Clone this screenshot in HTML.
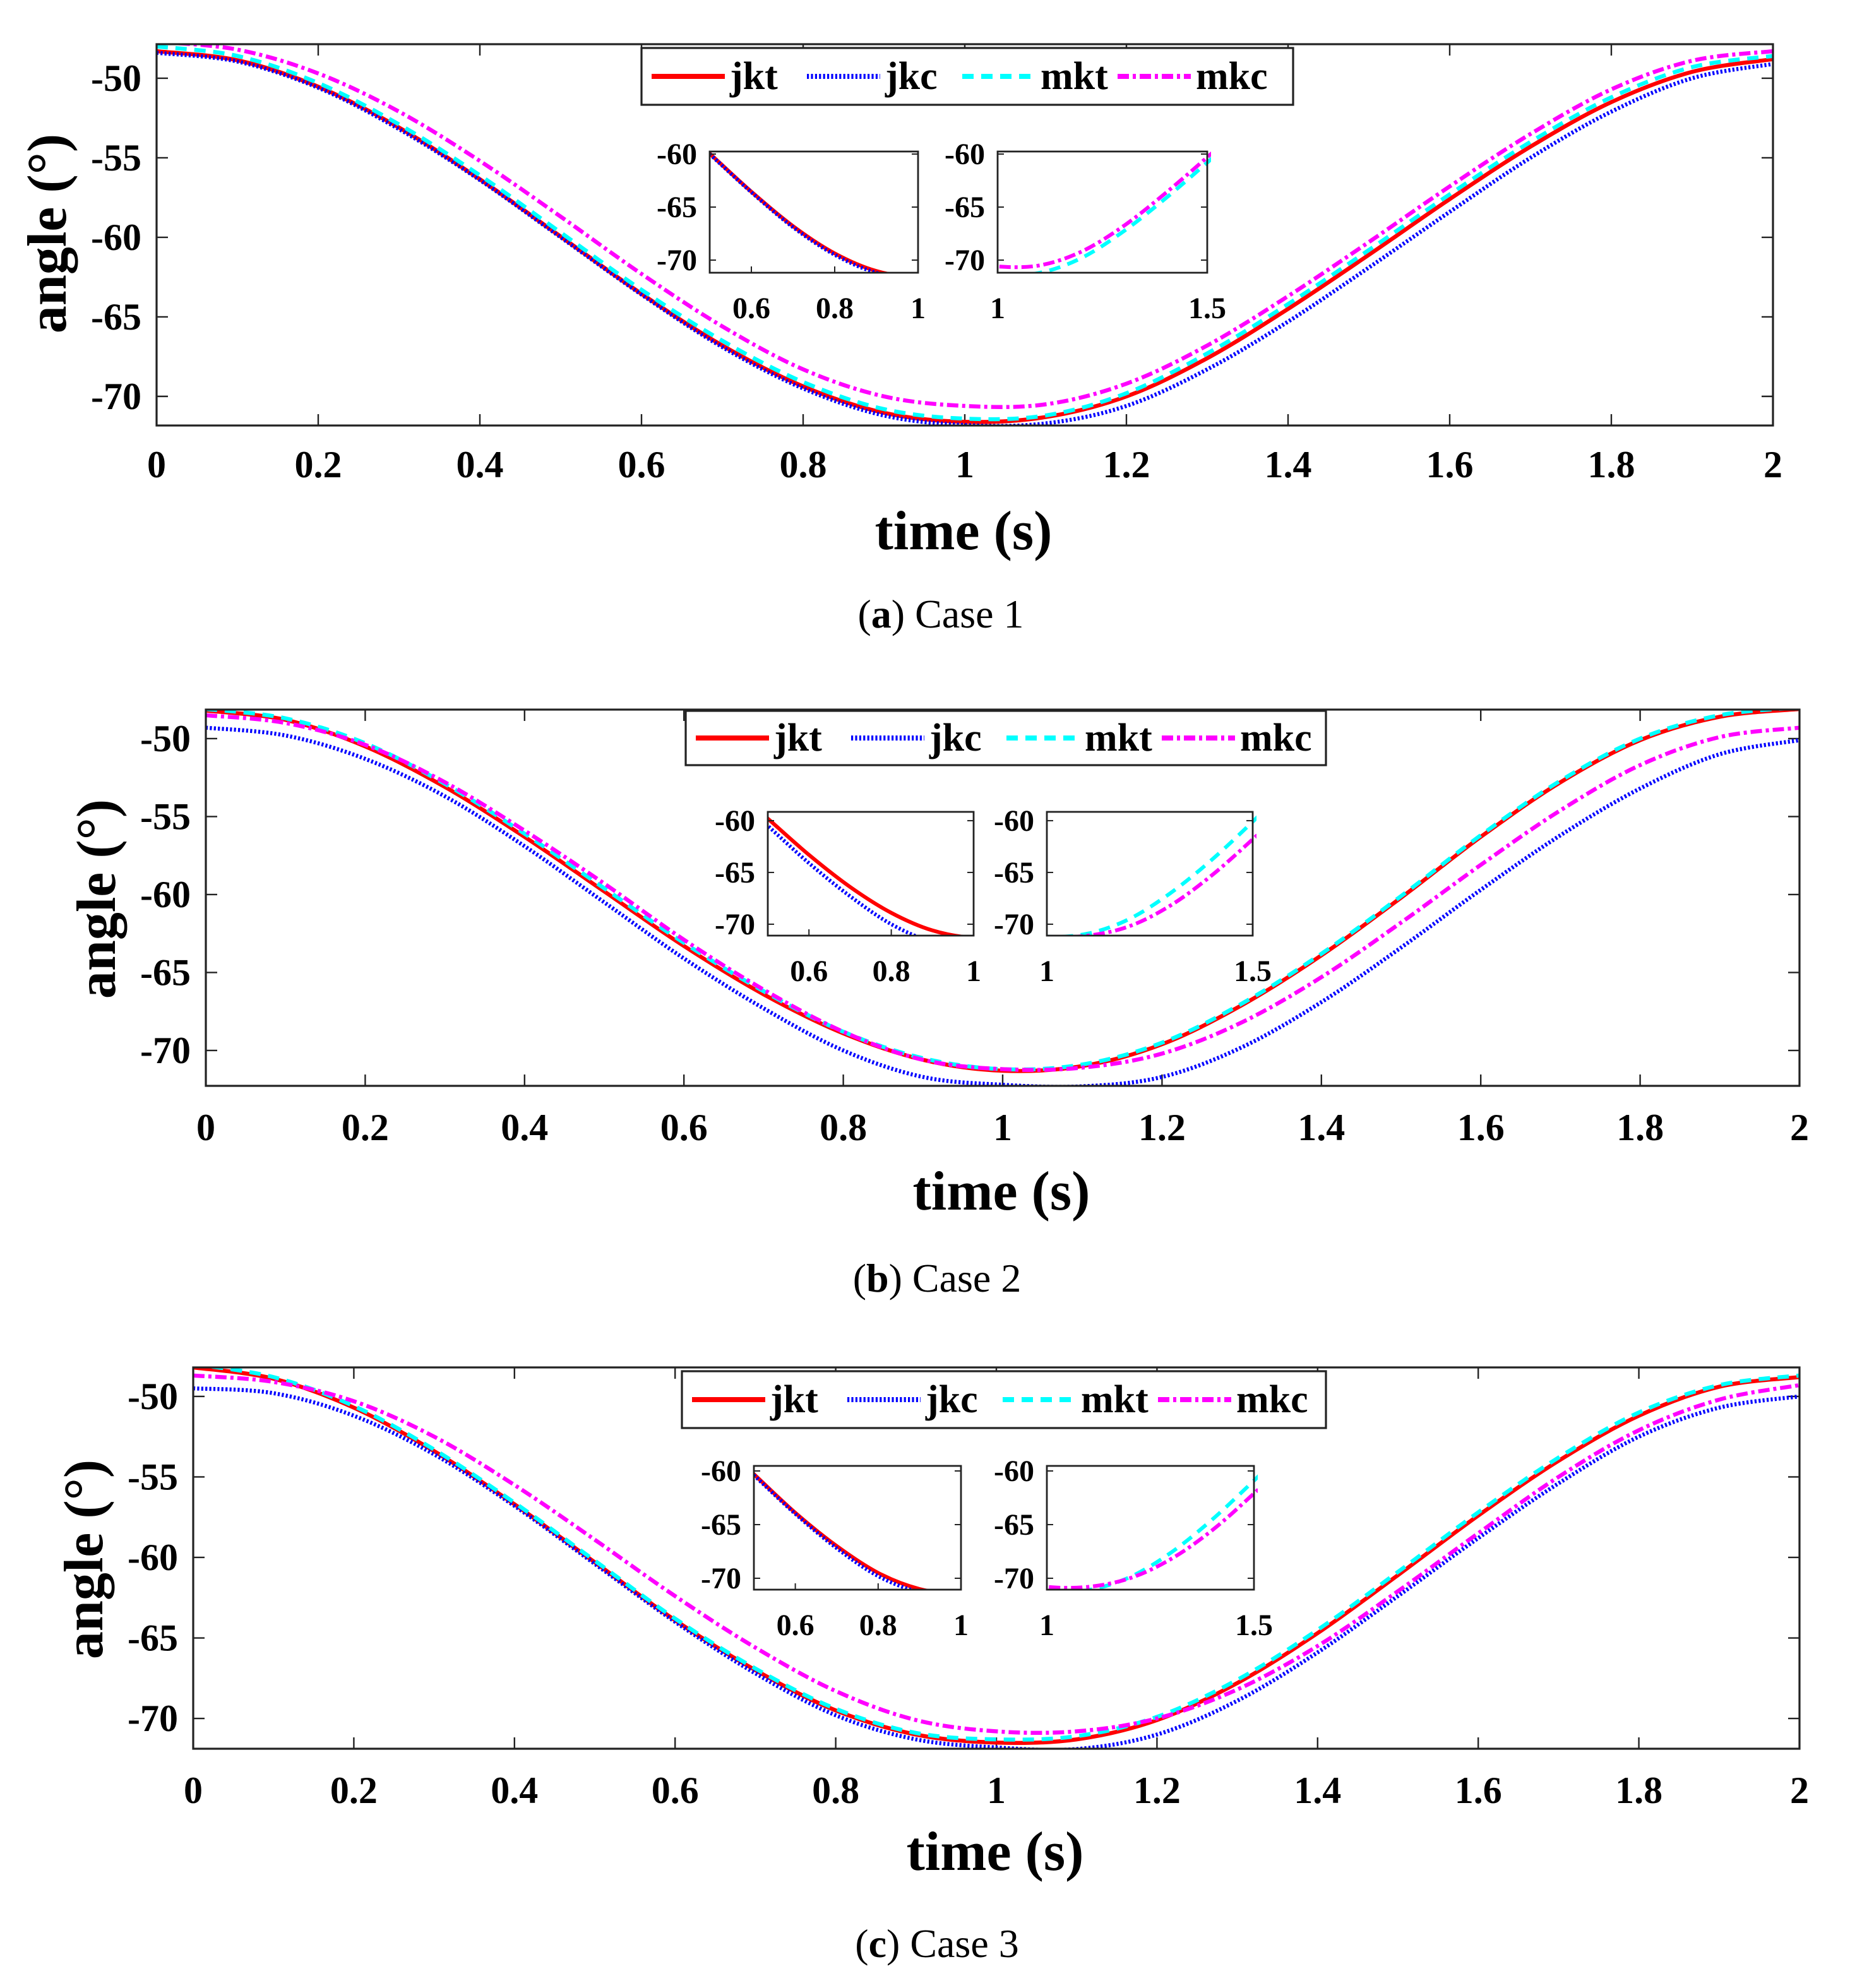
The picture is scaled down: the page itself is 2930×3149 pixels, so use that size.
<!DOCTYPE html>
<html><head><meta charset="utf-8">
<style>
html,body{margin:0;padding:0;background:#fff;}
svg{display:block;}
text{font-family:"Liberation Serif",serif;}
</style></head>
<body>
<svg id="fig" width="2930" height="3149" viewBox="0 0 1465 1574.5" xmlns="http://www.w3.org/2000/svg"></svg>
<script>
const times = [0,0.1,0.2,0.3,0.4,0.5,0.6,0.7,0.8,0.9,1.0,1.1,1.2,1.3,1.4,1.5,1.6,1.7,1.8,1.9,2.0];
const xTicks = [0,0.2,0.4,0.6,0.8,1,1.2,1.4,1.6,1.8,2];
const xTickLabels = ["0","0.2","0.4","0.6","0.8","1","1.2","1.4","1.6","1.8","2"];
const yTicks = [-50,-55,-60,-65,-70];
const insetYTicks = [-60,-65,-70];
const insetLeftXTicks = [0.6,0.8,1];
const insetRightXTicks = [1,1.5];
const seriesNames = ["jkt","jkc","mkt","mkc"];
const caseLabels = ["a","b","c"];
const caseTitles = ["Case 1","Case 2","Case 3"];

const case1_jkt = [-48.3,-48.87,-50.53,-53.1,-56.35,-59.95,-63.55,-66.8,-69.37,-71.03,-71.6,-71.3,-70.0,-67.6,-64.5,-61.1,-57.6,-54.3,-51.5,-49.6,-48.8];
const case1_jkc = [-48.4,-48.95,-50.6,-53.2,-56.4,-60.0,-63.6,-66.9,-69.5,-71.2,-71.8,-71.7,-70.6,-68.3,-65.3,-61.9,-58.4,-55.0,-52.1,-50.0,-49.1];
const case1_mkt = [-48.0,-48.6,-50.3,-52.9,-56.1,-59.7,-63.3,-66.5,-69.1,-70.8,-71.4,-71.2,-69.8,-67.3,-64.2,-60.8,-57.3,-54.0,-51.2,-49.3,-48.6];
const case1_mkc = [-47.7,-48.2,-49.7,-52.1,-55.2,-58.7,-62.3,-65.6,-68.3,-70.0,-70.6,-70.5,-69.2,-66.8,-63.7,-60.3,-56.8,-53.5,-50.7,-48.9,-48.3];

const case2_jkt = [-48.2,-48.8,-50.5,-53.1,-56.3,-59.8,-63.3,-66.4,-68.9,-70.6,-71.3,-71.0,-69.6,-67.1,-63.9,-60.2,-56.3,-52.8,-50.1,-48.6,-48.1];
const case2_jkc = [-49.3,-49.8,-51.3,-53.7,-56.9,-60.5,-64.1,-67.3,-70.0,-71.7,-72.2,-72.3,-71.7,-69.8,-66.9,-63.4,-59.7,-56.2,-53.2,-51.0,-50.1];
const case2_mkt = [-48.1,-48.7,-50.3,-52.9,-56.1,-59.6,-63.1,-66.2,-68.8,-70.5,-71.2,-70.9,-69.5,-67.0,-63.8,-60.1,-56.2,-52.7,-50.0,-48.5,-48.0];
const case2_mkc = [-48.5,-49.0,-50.4,-52.8,-55.9,-59.3,-62.9,-66.1,-68.8,-70.6,-71.2,-71.1,-70.2,-68.2,-65.3,-61.8,-58.1,-54.6,-51.7,-49.9,-49.3];

const case3_jkt = [-48.2,-48.9,-50.7,-53.4,-56.7,-60.3,-63.9,-67.0,-69.5,-71.0,-71.5,-71.3,-70.1,-67.8,-64.7,-61.1,-57.4,-54.0,-51.2,-49.4,-48.8];
const case3_jkc = [-49.5,-49.8,-51.2,-53.6,-56.8,-60.4,-64.0,-67.2,-69.8,-71.3,-71.8,-71.9,-71.0,-68.9,-65.9,-62.4,-58.8,-55.4,-52.5,-50.7,-50.0];
const case3_mkt = [-48.0,-48.8,-50.6,-53.3,-56.6,-60.2,-63.8,-66.9,-69.4,-70.9,-71.3,-71.1,-69.9,-67.6,-64.5,-60.9,-57.2,-53.8,-51.0,-49.3,-48.7];
const case3_mkc = [-48.7,-49.1,-50.3,-52.5,-55.5,-58.9,-62.4,-65.6,-68.3,-70.1,-70.8,-70.8,-70.0,-68.2,-65.5,-62.1,-58.5,-55.0,-52.1,-50.2,-49.3];

const allData = [[case1_jkt,case1_jkc,case1_mkt,case1_mkc],[case2_jkt,case2_jkc,case2_mkt,case2_mkc],[case3_jkt,case3_jkc,case3_mkt,case3_mkc]];

const styles = [
  {c:"#ff0000",d:"none",w:3.2},
  {c:"#0000ff",d:"1.6 1.6",w:3.2},
  {c:"#00ffff",d:"9 6",w:3.2},
  {c:"#ff00ff",d:"9 3 2.5 3",w:3.2}
];

const panels = [
  {x0:124,x1:1404,y0:35,y1:337,vt:-47.86,vb:-71.83,ylx:112,xly:378,tt:[763,435],at:[38,185],cap:[745,497],
   leg:[508,38,516,45], inL:[562,727,120,216],inR:[790,956,120,216],ivt:-59.76,ivb:-71.19,ilx:[552,780]},
  {x0:163,x1:1425,y0:562,y1:860,vt:-48.14,vb:-72.27,ylx:151,xly:903,tt:[793,958],at:[77,712],cap:[742,1023],
   leg:[543,563,507,43], inL:[608,771,643,741],inR:[829,992,643,741],ivt:-59.15,ivb:-71.1,ilx:[598,819]},
  {x0:153,x1:1425,y0:1083,y1:1385,vt:-48.2,vb:-71.88,ylx:141,xly:1428,tt:[788,1481],at:[67,1235],cap:[742,1550],
   leg:[540,1086,510,45], inL:[597,761,1161,1259],inR:[829,993,1161,1259],ivt:-59.53,ivb:-71.06,ilx:[587,819]}
];

const NS="http://www.w3.org/2000/svg";
const svg=document.getElementById('fig');
function mk(tag,attrs,parent){const e=document.createElementNS(NS,tag);for(const k in attrs)e.setAttribute(k,attrs[k]);(parent||svg).appendChild(e);return e;}
function txt(s,x,y,size,anchor,weight,parent){const t=mk('text',{x:x,y:y,'font-size':size,'text-anchor':anchor,'font-weight':weight,fill:'#000'},parent);t.textContent=s;return t;}
function linePath(pts){
  let d="M"+pts[0][0].toFixed(2)+","+pts[0][1].toFixed(2);
  for(let i=0;i<pts.length-1;i++){
    const p0=pts[Math.max(0,i-1)],p1=pts[i],p2=pts[i+1],p3=pts[Math.min(pts.length-1,i+2)];
    const c1=[p1[0]+(p2[0]-p0[0])/6,p1[1]+(p2[1]-p0[1])/6];
    const c2=[p2[0]-(p3[0]-p1[0])/6,p2[1]-(p3[1]-p1[1])/6];
    d+=" C"+c1[0].toFixed(2)+","+c1[1].toFixed(2)+" "+c2[0].toFixed(2)+","+c2[1].toFixed(2)+" "+p2[0].toFixed(2)+","+p2[1].toFixed(2);
  }
  return d;
}

panels.forEach((P,pi)=>{
  const g=mk('g',{});
  
  
  const xs=v=>P.x0+(v-0)/(2-0)*(P.x1-P.x0);
  const ys=v=>P.y0+(P.vt-v)/(P.vt-P.vb)*(P.y1-P.y0);
  const cid='clip'+pi;
  const cp=mk('clipPath',{id:cid},g);mk('rect',{x:P.x0,y:P.y0,width:P.x1-P.x0,height:P.y1-P.y0},cp);
  const ax=mk('g',{},g);
  
  
  xTicks.forEach((v,i)=>{
    const x=xs(v);
    mk('line',{x1:x,y1:P.y1,x2:x,y2:P.y1-9,stroke:'#222','stroke-width':1.2},ax);
    mk('line',{x1:x,y1:P.y0,x2:x,y2:P.y0+9,stroke:'#222','stroke-width':1.2},ax);
    const t=txt(xTickLabels[i],x,P.xly,30,'middle','bold',ax);
    
    
  });
  const ay=mk('g',{},g);
  
  
  yTicks.forEach(v=>{
    const y=ys(v);
    mk('line',{x1:P.x0,y1:y,x2:P.x0+9,y2:y,stroke:'#222','stroke-width':1.2},ay);
    mk('line',{x1:P.x1,y1:y,x2:P.x1-9,y2:y,stroke:'#222','stroke-width':1.2},ay);
    const t=txt(String(v),P.ylx,y+10,30,'end','bold',ay);
    
    
  });
  const sg=mk('g',{'clip-path':'url(#'+cid+')'},g);
  allData[pi].forEach((arr,si)=>{
    const pts=arr.map((v,i)=>[xs(times[i]),ys(v)]);
    const p=mk('path',{d:linePath(pts),fill:'none',stroke:styles[si].c,'stroke-width':styles[si].w,'stroke-dasharray':styles[si].d},sg);
    
    
  });
  mk('rect',{x:P.x0,y:P.y0,width:P.x1-P.x0,height:P.y1-P.y0,fill:'none',stroke:'#222','stroke-width':1.6},g);
  const tt=txt('time (s)',P.tt[0],P.tt[1],44,'middle','bold',g);
  
  
  const at=txt('angle (°)',0,0,44,'middle','bold',g);
  at.setAttribute('transform','translate('+(P.at[0]+14)+','+P.at[1]+') rotate(-90)');
  
  
  const cap=mk('text',{x:P.cap[0],y:P.cap[1],'font-size':32,'text-anchor':'middle',fill:'#000'},g);
  
  
  const s1=mk('tspan',{},cap);s1.textContent='(';
  const s2=mk('tspan',{'font-weight':'bold'},cap);s2.textContent=caseLabels[pi];
  const s3=mk('tspan',{},cap);s3.textContent=') '+caseTitles[pi];
  const L=P.leg;
  const lg=mk('g',{},g);
  
  
  mk('rect',{x:L[0],y:L[1],width:L[2],height:L[3],fill:'#fff',stroke:'#222','stroke-width':1.6},lg);
  const slot=123;
  seriesNames.forEach((n,si)=>{
    const ex=L[0]+8+si*slot;
    const cy=L[1]+L[3]/2;
    const e=mk('g',{},lg);
    
    
    mk('line',{x1:ex,y1:cy,x2:ex+58,y2:cy,stroke:styles[si].c,'stroke-width':4,'stroke-dasharray':styles[si].d},e);
    txt(n,ex+62,cy+10,31,'start','bold',e);
  });
  [['L',P.inL,0.5,1,insetLeftXTicks,[0,1]],['R',P.inR,1,1.5,insetRightXTicks,[2,3]]].forEach((I,ii)=>{
    const B=I[1],dx0=I[2],dx1=I[3];
    const ig=mk('g',{},g);
    
    
    const ixs=v=>B[0]+(v-dx0)/(dx1-dx0)*(B[1]-B[0]);
    const iys=v=>B[2]+(P.ivt-v)/(P.ivt-P.ivb)*(B[3]-B[2]);
    mk('rect',{x:B[0],y:B[2],width:B[1]-B[0],height:B[3]-B[2],fill:'#fff'},ig);
    const icid='iclip'+pi+ii;
    const icp=mk('clipPath',{id:icid},ig);mk('rect',{x:B[0],y:B[2]-3,width:B[1]-B[0]+3,height:B[3]-B[2]+3},icp);
    const isg=mk('g',{'clip-path':'url(#'+icid+')'},ig);
    I[5].forEach(si=>{
      const arr=allData[pi][si];
      const pts=[];
      arr.forEach((v,i)=>{if(times[i]>=dx0-0.1&&times[i]<=dx1+0.1)pts.push([ixs(times[i]),iys(v)]);});
      const p=mk('path',{d:linePath(pts),fill:'none',stroke:styles[si].c,'stroke-width':3,'stroke-dasharray':styles[si].d},isg);
      
      
    });
    mk('rect',{x:B[0],y:B[2],width:B[1]-B[0],height:B[3]-B[2],fill:'none',stroke:'#222','stroke-width':1.4},ig);
    insetYTicks.forEach(v=>{
      const y=iys(v);
      mk('line',{x1:B[0],y1:y,x2:B[0]+5,y2:y,stroke:'#222','stroke-width':1},ig);
      mk('line',{x1:B[1],y1:y,x2:B[1]-5,y2:y,stroke:'#222','stroke-width':1},ig);
      txt(String(v),P.ilx[ii],y+8,24,'end','bold',ig);
    });
    I[4].forEach(v=>{
      const x=ixs(v);
      mk('line',{x1:x,y1:B[3],x2:x,y2:B[3]-5,stroke:'#222','stroke-width':1},ig);
      txt(String(v),x,B[3]+36,24,'middle','bold',ig);
    });
  });
});
</script>
</body></html>
